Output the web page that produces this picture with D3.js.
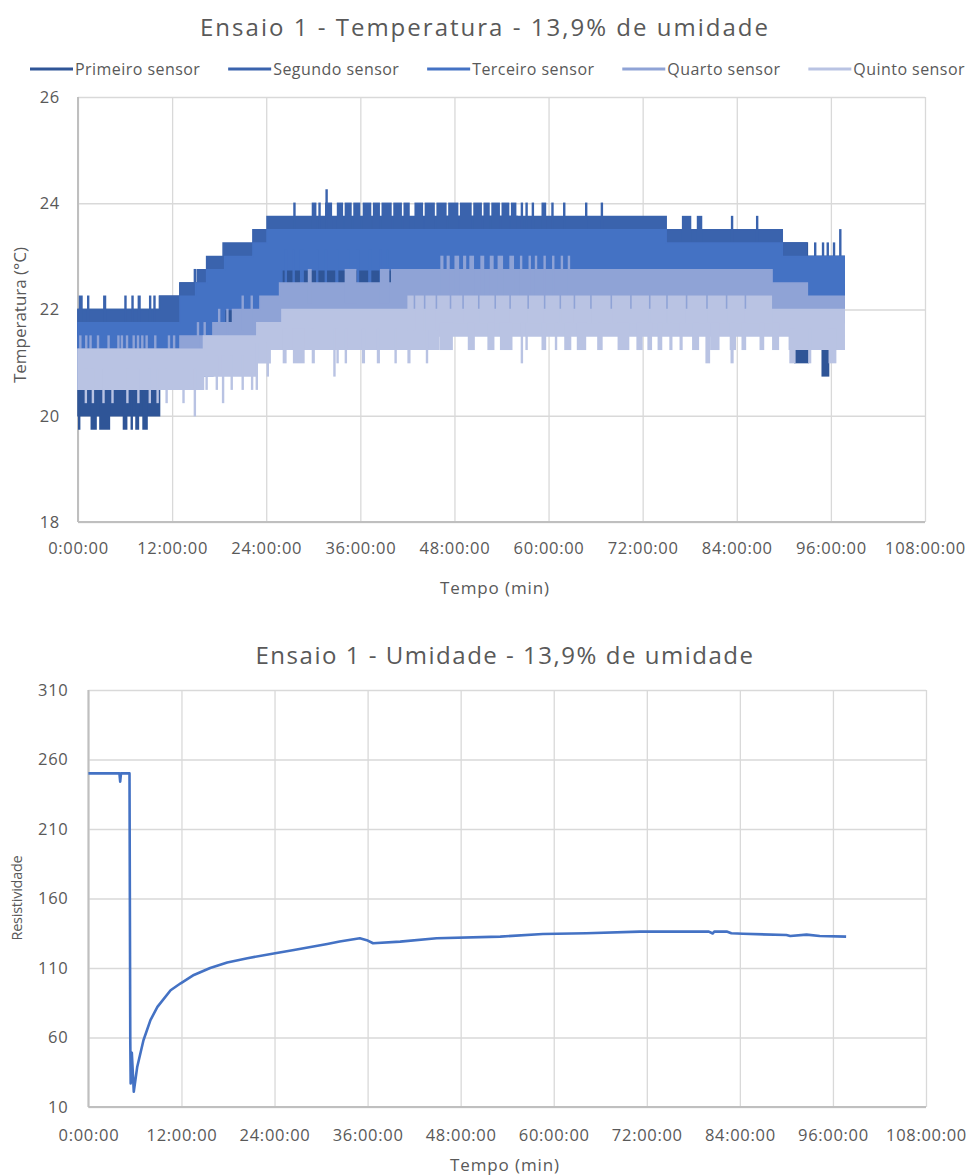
<!DOCTYPE html>
<html>
<head>
<meta charset="utf-8">
<script src="https://cdn.jsdelivr.net/npm/d3@7"></script>
<style>
    body { margin: 0; background: #fff; }
    text { font-family: "Open Sans", sans-serif; fill: #595959; }
</style>
</head>
<body>
<svg id="chart" width="968" height="1176"></svg>
<script>
// ---------- dados ----------
const sensores = ["Primeiro sensor", "Segundo sensor", "Terceiro sensor", "Quarto sensor", "Quinto sensor"];
const cores = ["#2f5597", "#3a63ad", "#4472c4", "#8fa3d6", "#b9c3e3"];

const ticksHoras = [0, 12, 24, 36, 48, 60, 72, 84, 96, 108];
const ticksTemp = [18, 20, 22, 24, 26];
const ticksResist = [10, 60, 110, 160, 210, 260, 310];

// faixa de leitura de cada sensor: [hora, minimo, maximo] (vale ate o proximo ponto)
const faixaPrimeiro = [
    [0, 20.0, 22.0], [10.4, 20.75, 22.25], [13, 20.75, 22.5], [16.5, 21.0, 22.75],
    [19, 21.5, 23.0], [22.3, 22.0, 23.25], [26, 22.5, 23.5], [46, 22.5, 23.75],
    [56, 22.5, 23.5], [75, 22.25, 23.25], [93, 22.0, 23.0], [97.7, 22.0, 23.0]
];
const faixaSegundo = [
    [0, 21.5, 22.0], [10.4, 21.75, 22.25], [13, 22.0, 22.5], [15.2, 22.25, 22.75],
    [16.4, 22.5, 23.0], [18.5, 22.75, 23.25], [22.3, 23.0, 23.5], [24.1, 23.0, 23.75],
    [75, 22.75, 23.5], [89.8, 22.75, 23.25], [92.9, 22.5, 23.0], [97.7, 22.5, 23.0]
];
const faixaTerceiro = [
    [0, 21.25, 21.75], [13, 21.5, 22.25], [15, 21.5, 22.5], [16.4, 21.5, 22.75],
    [17.2, 21.75, 22.75], [18.7, 22.0, 23.0], [22.3, 22.0, 23.25], [23.3, 22.25, 23.25],
    [24.1, 22.25, 23.5], [26, 22.75, 23.5], [75, 22.75, 23.25], [88.5, 22.5, 23.25],
    [89.8, 22.5, 23.0], [92.9, 22.25, 23.0], [97.7, 22.25, 23.0]
];
const faixaQuarto = [
    [0, 20.5, 21.25], [13, 20.75, 21.5], [17.2, 21.0, 21.75], [19.7, 21.25, 22.0],
    [23.2, 21.5, 22.25], [25.7, 21.75, 22.5], [40, 21.75, 22.75], [88.5, 21.75, 22.5],
    [93, 21.75, 22.25], [97.7, 21.75, 22.25]
];
const faixaQuinto = [
    [0, 20.5, 21.25], [16, 20.75, 21.5], [22.8, 21.0, 21.75], [24.5, 21.25, 21.75],
    [26, 21.25, 22.0], [42, 21.25, 22.0], [46, 21.5, 22.0], [90.7, 21.25, 22.0],
    [97.7, 21.25, 22.0]
];

// picos fora da faixa: [hora inicio, hora fim, valor]
const picosPrimeiro = [
    [0.0, 0.2, 19.75], [1.6, 2.4, 19.75], [2.7, 4.1, 19.75], [5.7, 6.3, 19.75],
    [6.7, 7.0, 19.75], [7.3, 7.8, 19.75], [8.2, 8.9, 19.75],
    [64.5, 64.5, 21.5], [91.3, 93.2, 21.0], [94.8, 95.8, 20.75]
];
const picosSegundo = [
    [0.1, 0.6, 22.25], [1.3, 1.3, 22.25], [3.2, 3.6, 22.25], [5.9, 6.1, 22.25],
    [6.8, 7.1, 22.25], [7.6, 8.0, 22.25], [9.2, 9.2, 22.25], [9.6, 9.7, 22.25],
    [14.9, 14.9, 22.75],
    [27.6, 27.6, 24.0], [29.8, 30.4, 24.0], [30.8, 30.8, 24.0], [31.5, 32.4, 24.0], [31.7, 31.7, 24.25],
    [33.0, 33.8, 24.0], [34.0, 34.9, 24.0], [35.1, 36.0, 24.0], [36.3, 37.4, 24.0],
    [37.6, 38.5, 24.0], [38.7, 40.0, 24.0], [40.2, 41.3, 24.0], [41.5, 42.3, 24.0],
    [42.9, 44.0, 24.0], [44.2, 45.5, 24.0], [45.7, 47.0, 24.0], [47.2, 48.5, 24.0],
    [48.7, 50.2, 24.0], [50.4, 51.5, 24.0], [51.7, 52.5, 24.0], [52.7, 53.8, 24.0],
    [54.0, 55.0, 24.0], [55.2, 55.9, 24.0],
    [56.6, 56.6, 24.0], [57.2, 57.2, 24.0], [58.0, 58.0, 24.0], [59.1, 59.7, 24.0],
    [60.5, 60.5, 24.0], [62.0, 62.0, 24.0], [64.8, 64.8, 24.0], [66.8, 66.8, 24.0],
    [77.0, 78.2, 23.75], [78.9, 79.6, 23.75], [83.4, 83.4, 23.75], [86.6, 86.6, 23.75],
    [94.0, 94.0, 23.25], [95.0, 95.0, 23.25], [95.6, 95.6, 23.25], [96.4, 96.4, 23.25],
    [97.2, 97.2, 23.5]
];
const picosTerceiro = [
    [26.5, 26.5, 22.5], [27.5, 27.5, 22.5], [28.3, 28.8, 22.5], [30.5, 30.5, 22.5],
    [31.6, 31.6, 22.5], [32.8, 33.2, 22.5], [34.5, 34.5, 22.5], [35.7, 35.7, 22.5],
    [37.0, 37.4, 22.5], [38.6, 38.6, 22.5], [39.5, 39.5, 22.5]
];
const picosQuarto = [
    [0.3, 0.3, 21.5], [0.9, 1.0, 21.5], [1.6, 1.6, 21.5], [2.4, 2.6, 21.5],
    [3.9, 3.9, 21.5], [5.0, 5.1, 21.5], [5.6, 5.6, 21.5], [6.1, 6.3, 21.5],
    [7.1, 7.1, 21.5], [7.5, 7.6, 21.5], [8.2, 8.2, 21.5], [8.6, 8.7, 21.5],
    [9.7, 9.9, 21.5], [11.6, 11.6, 21.5], [12.1, 12.2, 21.5],
    [15.3, 15.3, 21.75], [16.0, 16.1, 21.75], [18.0, 18.0, 22.0], [18.9, 19.0, 22.0],
    [21.0, 21.0, 22.25], [22.0, 22.1, 22.25],
    [29.3, 29.8, 22.75], [34.0, 35.5, 22.75], [38.5, 39.7, 22.75],
    [46.2, 46.6, 23.0], [47.0, 47.4, 23.0], [48.0, 48.6, 23.0], [49.1, 49.5, 23.0],
    [49.9, 50.5, 23.0], [51.3, 51.8, 23.0], [52.5, 53.0, 23.0], [53.5, 54.2, 23.0],
    [55.0, 55.6, 23.0], [56.5, 56.5, 23.0], [57.6, 57.6, 23.0], [58.4, 58.4, 23.0],
    [59.5, 59.5, 23.0], [60.6, 60.6, 23.0], [61.7, 61.7, 23.0], [62.6, 62.6, 23.0]
];
const picosQuinto = [
    [1.0, 1.0, 20.25], [1.9, 1.9, 20.25], [3.1, 3.4, 20.25], [4.4, 4.4, 20.25],
    [6.3, 6.3, 20.25], [7.7, 7.7, 20.25], [9.0, 9.3, 20.25], [10.0, 10.3, 20.25],
    [11.3, 11.3, 20.25], [13.3, 13.6, 20.25], [14.9, 14.9, 20.0],
    [16.4, 16.4, 20.5], [17.7, 17.7, 20.5], [18.5, 18.5, 20.25], [19.6, 19.6, 20.5],
    [21.0, 21.0, 20.5], [22.2, 22.2, 20.5], [22.8, 22.8, 20.5], [24.2, 24.2, 20.75],
    [26.1, 26.6, 21.0], [27.4, 28.9, 21.0], [29.8, 30.2, 21.0], [32.7, 32.7, 20.75],
    [33.1, 33.1, 21.0], [34.0, 34.3, 21.0], [36.2, 36.6, 21.0], [38.1, 38.5, 21.0],
    [40.5, 40.5, 21.0], [42.0, 42.4, 21.0], [44.5, 44.5, 21.0],
    [42.0, 42.8, 22.25], [43.0, 44.1, 22.25], [44.3, 45.6, 22.25], [45.8, 47.4, 22.25],
    [47.6, 49.0, 22.25], [49.2, 51.0, 22.25], [51.2, 53.1, 22.25], [53.3, 55.0, 22.25],
    [55.2, 57.3, 22.25], [57.5, 59.4, 22.25], [59.6, 61.4, 22.25], [61.6, 63.2, 22.25],
    [63.4, 65.3, 22.25], [65.5, 67.9, 22.25], [68.1, 70.4, 22.25], [70.6, 72.8, 22.25],
    [73.0, 75.0, 22.25], [75.2, 77.5, 22.25], [77.7, 80.1, 22.25], [80.3, 82.6, 22.25],
    [82.8, 85.0, 22.25], [85.2, 88.5, 22.25],
    [46.1, 47.8, 21.25], [49.7, 50.6, 21.25], [52.2, 53.1, 21.25], [53.8, 55.4, 21.25],
    [56.6, 56.6, 21.0], [57.2, 57.2, 21.25], [59.1, 59.7, 21.25], [60.8, 61.1, 21.25],
    [62.0, 62.9, 21.25], [63.6, 64.8, 21.25], [66.2, 66.9, 21.25], [68.8, 70.3, 21.25],
    [71.2, 72.0, 21.25], [72.6, 73.2, 21.25], [73.9, 74.5, 21.25], [75.4, 75.8, 21.25],
    [76.7, 77.1, 21.25], [78.3, 79.2, 21.25], [80.0, 80.6, 21.0], [80.6, 81.8, 21.25],
    [83.1, 83.9, 21.25], [83.2, 83.6, 21.0], [84.6, 85.2, 21.25], [86.9, 87.5, 21.25],
    [88.5, 89.4, 21.25], [90.7, 91.5, 21.0], [93.1, 93.5, 21.0], [95.7, 96.7, 21.0]
];

const faixas = [faixaPrimeiro, faixaSegundo, faixaTerceiro, faixaQuarto, faixaQuinto];
const picos = [picosPrimeiro, picosSegundo, picosTerceiro, picosQuarto, picosQuinto];

// resistividade (umidade) ao longo do ensaio
const umidadeHoras = [0, 4.0, 4.1, 4.2, 5.3, 5.4, 5.45, 5.6, 5.85, 6.3, 7.1, 8.0, 8.9, 10.6, 11.9,
    13.6, 15.7, 17.9, 20.5, 23.9, 26.5, 30.8, 32.4, 35.0, 35.9, 36.7, 40.2, 44.9, 53.1, 58.6,
    64.2, 71.1, 80.0, 80.5, 80.7, 82.3, 82.9, 84.4, 90.0, 90.5, 92.6, 94.3, 97.7];
const umidadeResist = [250, 250, 244, 250, 250, 58, 27, 49, 21, 39, 58, 72.5, 82, 94, 99,
    105, 110, 114, 117, 120.5, 123, 127.3, 129, 131.4, 130, 127.8, 129, 131.4, 132.6, 134.5,
    135, 136.2, 136.2, 134.8, 136.2, 136.2, 135, 134.6, 133.7, 133, 134, 133, 132.6];

// ---------- desenho ----------
const svg = d3.select("#chart");
const cinzaTexto = "#595959";
const cinzaGrade = "#d9d9d9";
const cinzaEixo = "#bfbfbf";

function fmtHora(h) { return h + ":00:00"; }

function desenhaEixos(x, y, yTicks, padY, padX) {
    const largura = x.range()[1] - x.range()[0];
    const altura = y.range()[0] - y.range()[1];

    const gy = svg.append("g")
        .attr("transform", `translate(${x.range()[0]},0)`)
        .call(d3.axisLeft(y).tickValues(yTicks).tickSize(-largura).tickPadding(padY));
    const gx = svg.append("g")
        .attr("transform", `translate(0,${y.range()[0]})`)
        .call(d3.axisBottom(x).tickValues(ticksHoras).tickSize(-altura).tickPadding(padX).tickFormat(fmtHora));

    [gy, gx].forEach(g => {
        g.select(".domain").remove();
        g.attr("font-family", null).attr("font-size", null);
        g.selectAll(".tick line").attr("stroke", cinzaGrade).attr("stroke-width", 1.3);
        g.selectAll(".tick text")
            .attr("fill", cinzaTexto)
            .style("font-size", "16.5px")
            .style("letter-spacing", "0.7px");
    });

    // linhas de eixo
    svg.append("line")
        .attr("x1", x.range()[0]).attr("x2", x.range()[1])
        .attr("y1", y.range()[0]).attr("y2", y.range()[0])
        .attr("stroke", cinzaEixo).attr("stroke-width", 2);
    svg.append("line")
        .attr("x1", x.range()[0]).attr("x2", x.range()[0])
        .attr("y1", y.range()[0]).attr("y2", y.range()[1])
        .attr("stroke", cinzaEixo).attr("stroke-width", 2);
}

// texto centrado, com espacamento ajustado para ocupar a largura do original
function texto(txt, cx, cy, tam, largura, rot) {
    const t = svg.append("text")
        .attr("transform", `translate(${cx},${cy})` + (rot ? " rotate(-90)" : ""))
        .attr("text-anchor", "middle")
        .style("font-size", tam + "px")
        .text(txt);
    if (largura) {
        let w = t.node().getComputedTextLength();
        t.style("letter-spacing", ((largura - w) / txt.length) + "px");
    }
    return t;
}

// ===== grafico 1: temperatura =====
const x1 = d3.scaleLinear().domain([0, 108]).range([78, 925]);
const y1 = d3.scaleLinear().domain([18, 26]).range([522, 97]);

desenhaEixos(x1, y1, ticksTemp, 18, 20);

const area1 = d3.area()
    .x(d => x1(d[0]))
    .y0(d => y1(d[1]))
    .y1(d => y1(d[2]))
    .curve(d3.curveStepAfter);

function faixaEm(faixa, h) {
    let i = d3.bisector(d => d[0]).right(faixa, h) - 1;
    return faixa[Math.max(0, i)];
}

const series = svg.append("g").attr("class", "series");
faixas.forEach((faixa, k) => {
    const g = series.append("g");
    g.append("path")
        .datum(faixa)
        .attr("d", area1)
        .attr("fill", cores[k])
        .attr("stroke", cores[k])
        .attr("stroke-width", 1.5);
    g.selectAll("rect")
        .data(picos[k])
        .join("rect")
        .attr("x", d => d[1] > d[0] ? x1(d[0]) : x1(d[0]) - 1.2)
        .attr("width", d => d[1] > d[0] ? Math.max(2.4, x1(d[1]) - x1(d[0])) : 2.4)
        .attr("y", d => {
            let f = faixaEm(faixa, d[0]);
            return Math.min(y1(d[2]), y1((f[1] + f[2]) / 2)) - 0.7;
        })
        .attr("height", d => {
            let f = faixaEm(faixa, d[0]);
            return Math.abs(y1(d[2]) - y1((f[1] + f[2]) / 2)) + 1.4;
        })
        .attr("fill", cores[k]);
});

texto("Ensaio 1 - Temperatura - 13,9% de umidade", 485, 36, 24, 570);

// legenda
const leg = svg.append("g");
const itens = [];
sensores.forEach((nome, k) => {
    const it = leg.append("g");
    it.append("line")
        .attr("x1", 0).attr("x2", 43).attr("y1", 0).attr("y2", 0)
        .attr("stroke", cores[k]).attr("stroke-width", 3);
    const t = it.append("text")
        .attr("x", 45).attr("y", 5.8)
        .style("font-size", "16px")
        .style("letter-spacing", "0.45px")
        .text(nome);
    itens.push({g: it, w: 45 + t.node().getComputedTextLength()});
});
const somaLeg = d3.sum(itens, d => d.w);
const folgaLeg = (935 - somaLeg) / (itens.length - 1);
let pos = 30;
itens.forEach(it => {
    it.g.attr("transform", `translate(${pos},69)`);
    pos += it.w + folgaLeg;
});

texto("Tempo (min)", 495, 594, 17, 110);
texto("Temperatura (°C)", 26, 315, 17, 136, true);

// ===== grafico 2: umidade =====
const x2 = d3.scaleLinear().domain([0, 108]).range([88.4, 926]);
const y2 = d3.scaleLinear().domain([10, 310]).range([1107, 690]);

desenhaEixos(x2, y2, ticksResist, 20, 22);

const linha2 = d3.line()
    .x((d, i) => x2(umidadeHoras[i]))
    .y(d => y2(d));

svg.append("path")
    .datum(umidadeResist)
    .attr("d", linha2)
    .attr("fill", "none")
    .attr("stroke", "#4472c4")
    .attr("stroke-width", 2.6)
    .attr("stroke-linejoin", "round");

texto("Ensaio 1 - Umidade - 13,9% de umidade", 505, 664, 24, 499);
texto("Tempo (min)", 505, 1171, 17, 110);
texto("Resistividade", 22, 898, 14.5, 85, true);
</script>
</body>
</html>
